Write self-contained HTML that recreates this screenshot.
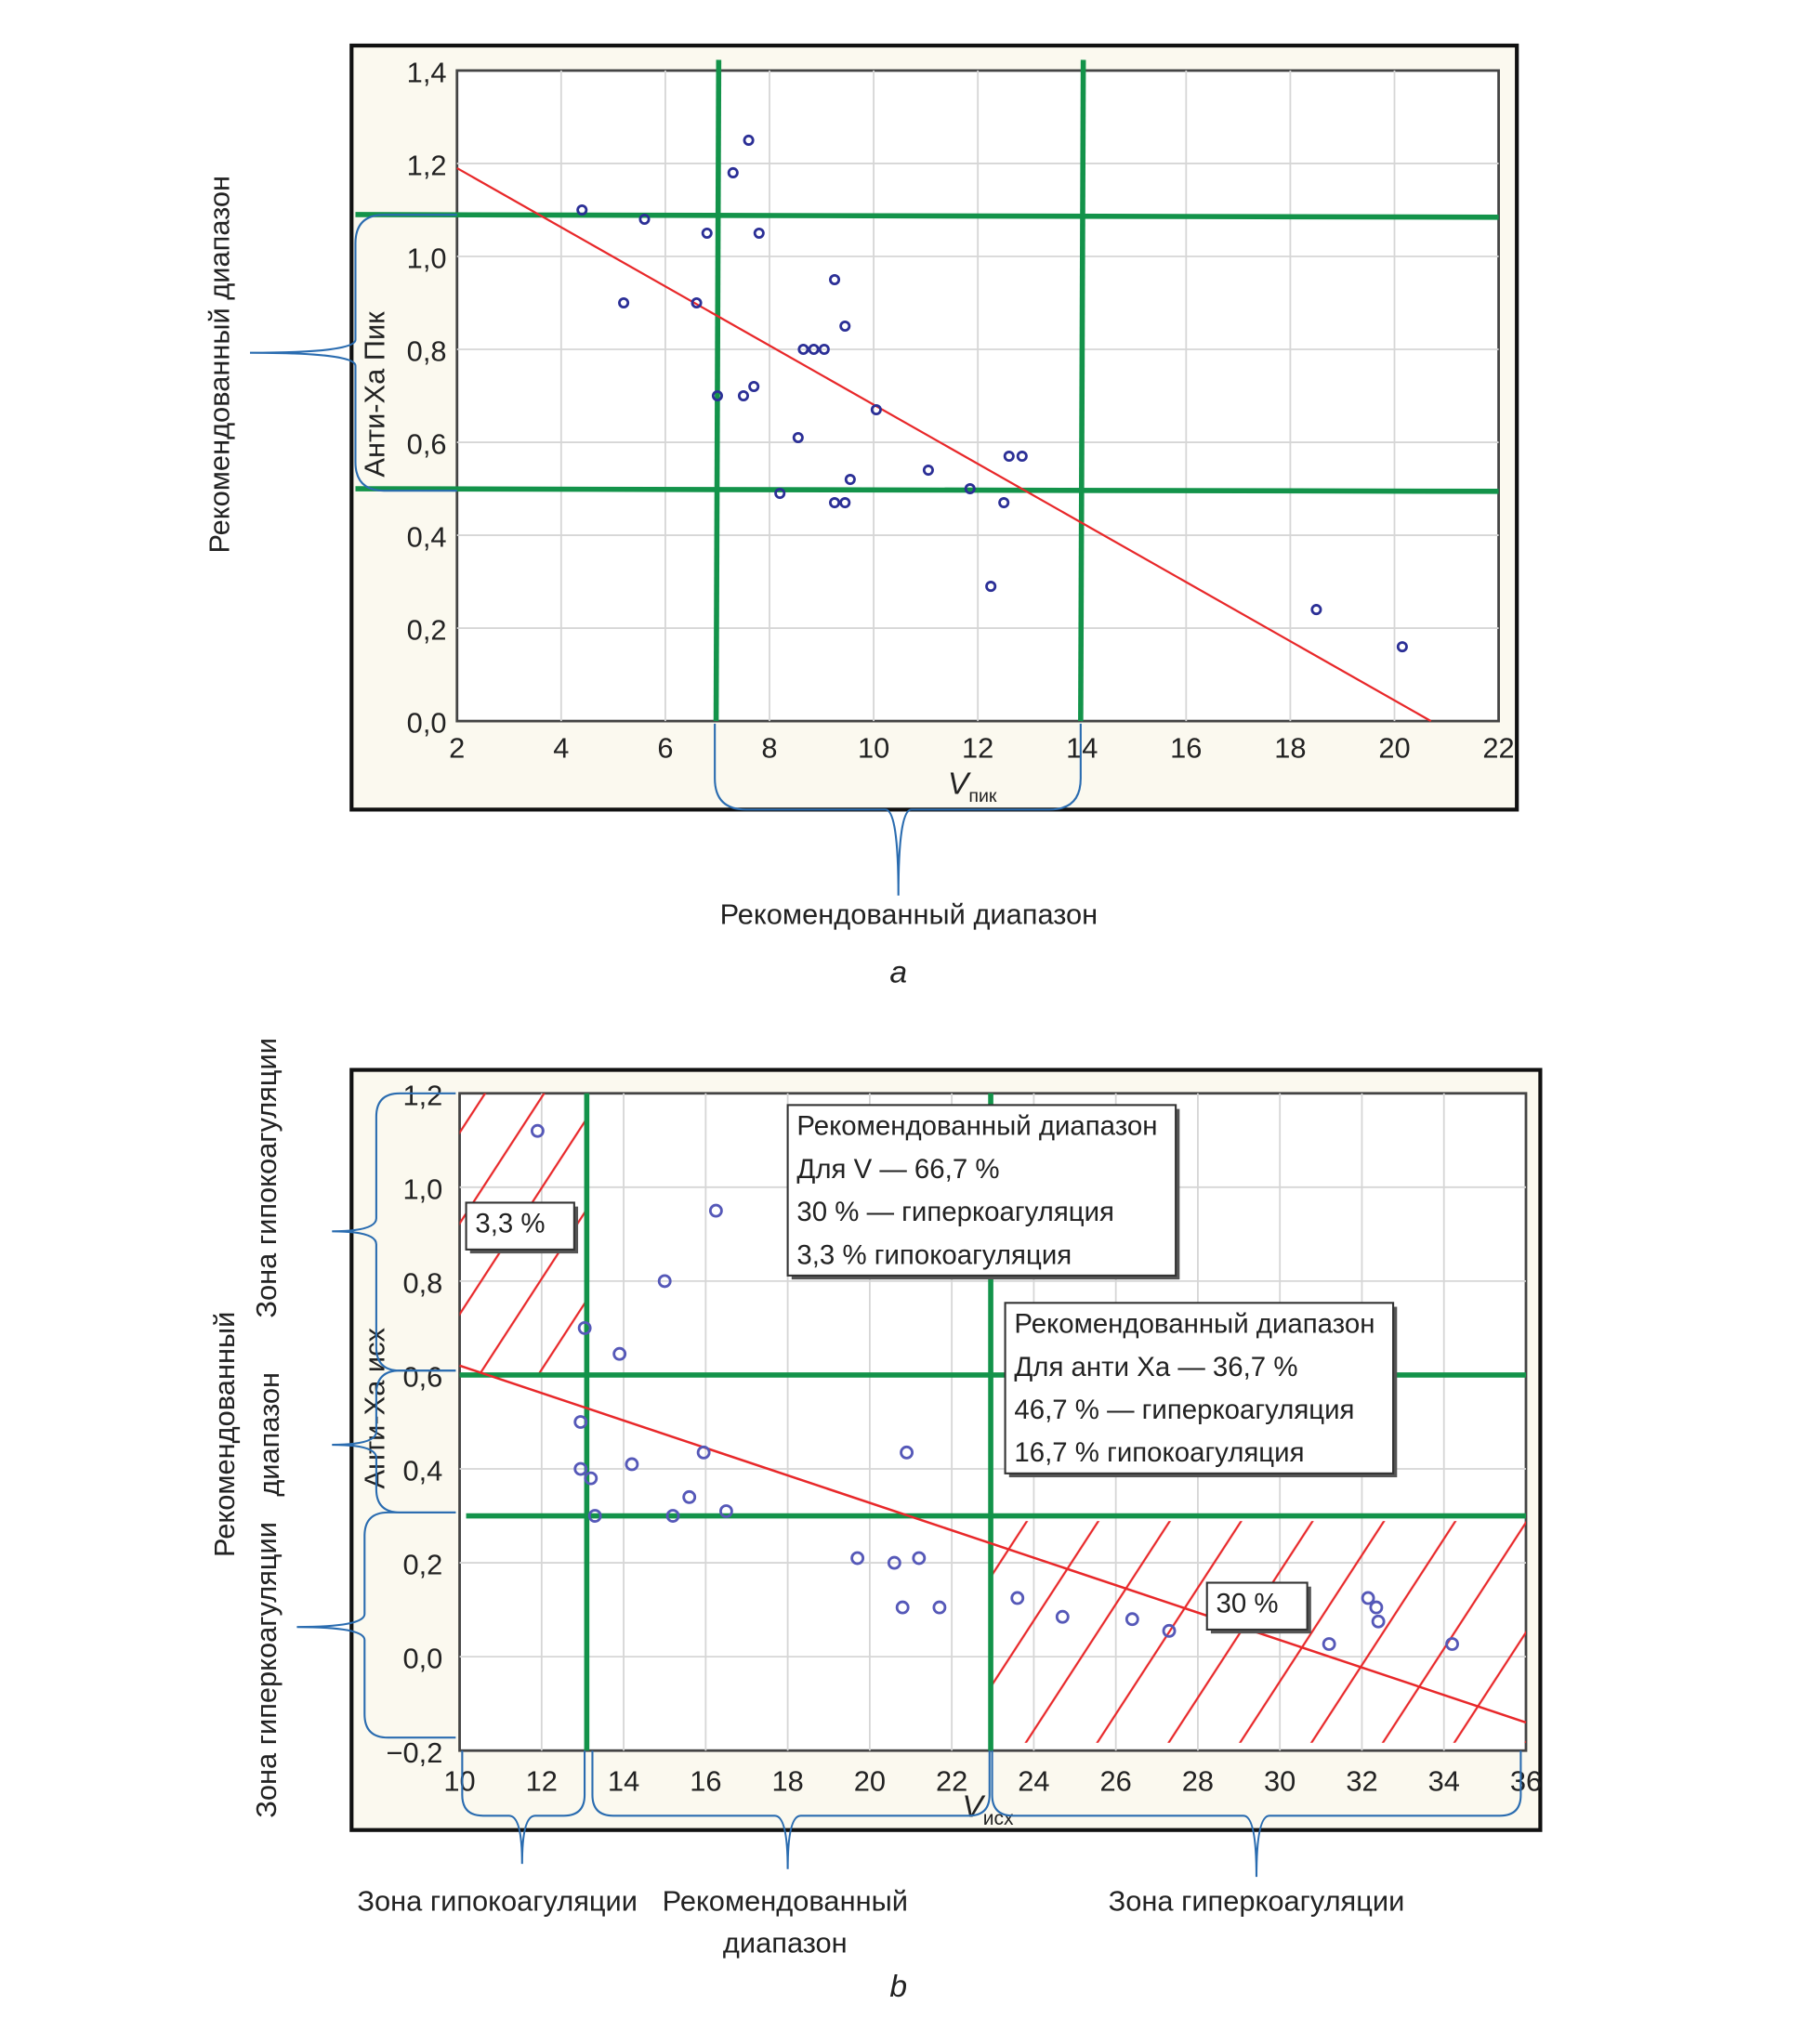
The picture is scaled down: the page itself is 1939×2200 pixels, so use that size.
<!DOCTYPE html>
<html><head><meta charset="utf-8"><style>
html,body{margin:0;padding:0;background:#fff}
svg{display:block}
text{font-family:"Liberation Sans","DejaVu Sans",sans-serif;fill:#222}
</style></head><body>
<svg id="s" width="1939" height="2200" viewBox="0 0 1384 1570.4" preserveAspectRatio="none" xmlns="http://www.w3.org/2000/svg">
<defs>
<pattern id="hatchL" width="38" height="38" patternUnits="userSpaceOnUse" patternTransform="rotate(33)"><line x1="10" y1="0" x2="10" y2="38" stroke="#e8282a" stroke-width="1.6"/></pattern>
<pattern id="hatchR" width="46" height="46" patternUnits="userSpaceOnUse" patternTransform="rotate(33)"><line x1="10" y1="0" x2="10" y2="46" stroke="#e8282a" stroke-width="1.6"/></pattern>
</defs>
<g id="ga"></g>
<g id="gb"></g>
</svg>
<script>
// Chart a data
const aXTicks=[2,4,6,8,10,12,14,16,18,20,22];
const aYTicks=[0,0.2,0.4,0.6,0.8,1.0,1.2,1.4];
const aYTickLabels=["0,0","0,2","0,4","0,6","0,8","1,0","1,2","1,4"];
const aPtsX=[4.4,5.2,5.6,6.6,6.8,7.0,7.3,7.6,7.5,7.7,7.8,8.2,8.55,8.65,8.85,9.05,9.25,9.25,9.45,9.45,9.55,10.05,11.05,11.85,12.25,12.5,12.6,12.85,18.5,20.15];
const aPtsY=[1.1,0.9,1.08,0.9,1.05,0.7,1.18,1.25,0.7,0.72,1.05,0.49,0.61,0.8,0.8,0.8,0.95,0.47,0.47,0.85,0.52,0.67,0.54,0.5,0.29,0.47,0.57,0.57,0.24,0.16];
const aTrend=[[2,1.19],[20.7,0]];
const aVLines=[7,14];
const aHLines=[1.09,0.5];
// Chart b data
const bXTicks=[10,12,14,16,18,20,22,24,26,28,30,32,34,36];
const bYTicks=[-0.2,0,0.2,0.4,0.6,0.8,1.0,1.2];
const bYTickLabels=["\u22120,2","0,0","0,2","0,4","0,6","0,8","1,0","1,2"];
const bPtsX=[11.9,16.25,15.0,13.05,13.9,12.95,12.95,13.2,14.2,13.3,15.2,15.6,15.95,16.5,20.9,19.7,20.6,21.2,20.8,21.7,23.6,24.7,26.4,27.3,31.2,32.15,32.35,32.4,34.2];
const bPtsY=[1.12,0.95,0.8,0.7,0.645,0.5,0.4,0.38,0.41,0.3,0.3,0.34,0.435,0.31,0.435,0.21,0.2,0.21,0.105,0.105,0.125,0.085,0.08,0.055,0.027,0.125,0.105,0.075,0.027];
const bTrend=[[10,0.62],[36,-0.14]];
const bVLines=[13.1,22.95];
const bHLines=[0.6,0.3];

const NS="http://www.w3.org/2000/svg";
function mk(p,tag,at,txt){const e=document.createElementNS(NS,tag);for(const k in at)e.setAttribute(k,at[k]);if(txt!==undefined)e.textContent=txt;p.appendChild(e);return e;}
// horizontal brace hanging below y: ends at y, bar at y+d, tip at (xm,tip)
function hbrace(p,x1,x2,y,xm,tip,d,r){const b=y+d,t=10;return mk(p,'path',{d:`M${x1} ${y} L${x1} ${b-r} Q${x1} ${b} ${x1+r} ${b} L${xm-t} ${b} Q${xm} ${b} ${xm} ${tip} Q${xm} ${b} ${xm+t} ${b} L${x2-r} ${b} Q${x2} ${b} ${x2} ${b-r} L${x2} ${y}`,fill:'none',stroke:'#2a6cb0','stroke-width':1.5});}
// vertical brace left of x: ends at x, bar at x-d, tip at (tip,ym)
function vbrace(p,y1,y2,x,ym,tip,d,r){const b=x-d,t=10;return mk(p,'path',{d:`M${x} ${y1} L${b+r} ${y1} Q${b} ${y1} ${b} ${y1+r} L${b} ${ym-t} Q${b} ${ym} ${tip} ${ym} Q${b} ${ym} ${b} ${ym+t} L${b} ${y2-r} Q${b} ${y2} ${b+r} ${y2} L${x} ${y2}`,fill:'none',stroke:'#2a6cb0','stroke-width':1.5});}

// ---- Chart A ----
(function(){
const g=document.getElementById('ga');
const X=v=>351+(v-2)*40, Y=v=>554-v*357;
let e=mk(g,'rect',{x:270,y:35,width:895,height:587,fill:'#fbf9ef',stroke:'#111','stroke-width':3});

e=mk(g,'rect',{x:X(2),y:Y(1.4),width:X(22)-X(2),height:Y(0)-Y(1.4),fill:'#fff',stroke:'#444','stroke-width':2});

aXTicks.forEach((t,i)=>{ if(i>0&&i<aXTicks.length-1){e=mk(g,'line',{x1:X(t),x2:X(t),y1:Y(1.4),y2:Y(0),stroke:'#d6d6d6','stroke-width':1.3});}
 e=mk(g,'text',{x:X(t),y:582,'font-size':22,'text-anchor':'middle'},String(t));});
aYTicks.forEach((t,i)=>{ if(i>0&&i<aYTicks.length-1){e=mk(g,'line',{x1:X(2),x2:X(22),y1:Y(t),y2:Y(t),stroke:'#d6d6d6','stroke-width':1.3});}
 e=mk(g,'text',{x:343,y:Y(t)+9,'font-size':22,'text-anchor':'end'},aYTickLabels[i]);});
aHLines.forEach(v=>{e=mk(g,'line',{x1:273,x2:X(22),y1:Y(v),y2:Y(v)+2,stroke:'#13934a','stroke-width':4});});
aVLines.forEach(v=>{e=mk(g,'line',{x1:X(v)+1,x2:X(v)-1,y1:46,y2:Y(0),stroke:'#13934a','stroke-width':4});});
e=mk(g,'line',{x1:X(aTrend[0][0]),y1:Y(aTrend[0][1]),x2:X(aTrend[1][0]),y2:Y(aTrend[1][1]),stroke:'#e8282a','stroke-width':1.6});

aPtsX.forEach((x,i)=>{e=mk(g,'circle',{cx:X(x),cy:Y(aPtsY[i]),r:3.3,fill:'none',stroke:'#2b2f96','stroke-width':2});});
e=mk(g,'text',{x:0,y:0,'font-size':22,'text-anchor':'middle',transform:'translate(295,303) rotate(-90)'},'Анти-Ха Пик');
e=mk(g,'text',{x:728,y:610,'font-size':24,'font-style':'italic'},'V');
mk(e,'tspan',{'font-size':14,'font-style':'normal',dy:6},'пик');
e=vbrace(g,165,377,351,271,192,78,22);
e=mk(g,'text',{x:0,y:0,'font-size':22,'text-anchor':'middle',transform:'translate(176,280) rotate(-90)'},'Рекомендованный диапазон');
e=hbrace(g,549,830,556,690,688,66,24);
e=mk(g,'text',{x:698,y:710,'font-size':22,'text-anchor':'middle'},'Рекомендованный диапазон');
e=mk(g,'text',{x:690,y:755,'font-size':24,'font-style':'italic','text-anchor':'middle'},'a');
})();

// ---- Chart B ----
(function(){
const g=document.getElementById('gb');
const X=v=>353+(v-10)*31.5, Y=v=>840+(1.2-v)*360.7;
let e=mk(g,'rect',{x:270,y:822,width:913,height:584,fill:'#fbf9ef',stroke:'#111','stroke-width':3});

e=mk(g,'rect',{x:X(10),y:Y(1.2),width:X(36)-X(10),height:Y(-0.2)-Y(1.2),fill:'#fff',stroke:'#444','stroke-width':2});

bXTicks.forEach((t,i)=>{ if(i>0&&i<bXTicks.length-1){e=mk(g,'line',{x1:X(t),x2:X(t),y1:Y(1.2),y2:Y(-0.2),stroke:'#d6d6d6','stroke-width':1.3});}
 e=mk(g,'text',{x:X(t),y:1376,'font-size':22,'text-anchor':'middle'},String(t));});
bYTicks.forEach((t,i)=>{ if(i>0&&i<bYTicks.length-1){e=mk(g,'line',{x1:X(10),x2:X(36),y1:Y(t),y2:Y(t),stroke:'#d6d6d6','stroke-width':1.3});}
 e=mk(g,'text',{x:340,y:Y(t)+9,'font-size':22,'text-anchor':'end'},bYTickLabels[i]);});
e=mk(g,'rect',{x:X(10),y:Y(1.2),width:X(bVLines[0])-X(10),height:Y(bHLines[0])-Y(1.2),fill:'url(#hatchL)'});
e=mk(g,'rect',{x:X(bVLines[1]),y:Y(bHLines[1])+4,width:X(36)-X(bVLines[1]),height:Y(-0.2)-Y(bHLines[1])-10,fill:'url(#hatchR)'});
bHLines.forEach((v,i)=>{e=mk(g,'line',{x1:i?358:X(10),x2:X(36),y1:Y(v),y2:Y(v),stroke:'#13934a','stroke-width':4});});
bVLines.forEach(v=>{e=mk(g,'line',{x1:X(v),x2:X(v),y1:Y(1.2),y2:Y(-0.2),stroke:'#13934a','stroke-width':4});});
e=mk(g,'line',{x1:X(bTrend[0][0]),y1:Y(bTrend[0][1]),x2:X(bTrend[1][0]),y2:Y(bTrend[1][1]),stroke:'#e8282a','stroke-width':1.8});

bPtsX.forEach((x,i)=>{e=mk(g,'circle',{cx:X(x),cy:Y(bPtsY[i]),r:4.3,fill:'none',stroke:'#5558b8','stroke-width':2});});
function box(x,y,w,h,lines,name,lh){const bg=mk(g,'g',{});
 mk(bg,'rect',{x:x+3,y:y+3,width:w,height:h,fill:'#555'});mk(bg,'rect',{x:x,y:y,width:w,height:h,fill:'#fff',stroke:'#333','stroke-width':1.5});
 lines.forEach((l,i)=>mk(bg,'text',{x:x+7,y:y+23+i*lh,'font-size':21},l));}
box(605,849,298,131,['Рекомендованный диапазон','Для V — 66,7 %','30 % — гиперкоагуляция','3,3 % гипокоагуляция'],'annotation-box-v',33);
box(772,1001,298,131,['Рекомендованный диапазон','Для анти Ха — 36,7 %','46,7 % — гиперкоагуляция','16,7 % гипокоагуляция'],'annotation-box-antixa',33);
box(358,924,83,36,['3,3 %'],'label-3-3-percent',0);
box(927,1216,77,36,['30 %'],'label-30-percent',0);
e=mk(g,'text',{x:0,y:0,'font-size':22,'text-anchor':'middle',transform:'translate(295,1082) rotate(-90)'},'Анти-Ха исх');
e=mk(g,'text',{x:739,y:1396,'font-size':24,'font-style':'italic'},'V');
mk(e,'tspan',{'font-size':15,'font-style':'normal',dy:6},'исх');
[[840,1053,946,255,61,'b-hypo-brace'],[1053,1162,1110,255,61,'b-rec-brace'],[1162,1335,1250,228,70,'b-hyper-brace']].forEach(b=>{e=vbrace(g,b[0],b[1],350,b[2],b[3],b[4],18);});
[[212,905,'Зона гипокоагуляции','b-y-hypo-label'],[180,1102,'Рекомендованный','b-y-rec-label-1'],[214,1102,'диапазон','b-y-rec-label-2'],[212,1283,'Зона гиперкоагуляции','b-y-hyper-label']].forEach(t=>{e=mk(g,'text',{x:0,y:0,'font-size':22,'text-anchor':'middle',transform:`translate(${t[0]},${t[1]}) rotate(-90)`},t[2]);});
[[355,449,401,1432,'b-x-hypo-brace'],[455,760,605,1436,'b-x-rec-brace'],[762,1168,965,1442,'b-x-hyper-brace']].forEach(b=>{e=hbrace(g,b[0],b[1],1345,b[2],b[3],50,16);});
[[382,1468,'Зона гипокоагуляции','b-x-hypo-label'],[603,1468,'Рекомендованный','b-x-rec-label-1'],[603,1500,'диапазон','b-x-rec-label-2'],[965,1468,'Зона гиперкоагуляции','b-x-hyper-label']].forEach(t=>{e=mk(g,'text',{x:t[0],y:t[1],'font-size':22,'text-anchor':'middle'},t[2]);});
e=mk(g,'text',{x:690,y:1534,'font-size':24,'font-style':'italic','text-anchor':'middle'},'b');
})();
</script>
</body></html>
